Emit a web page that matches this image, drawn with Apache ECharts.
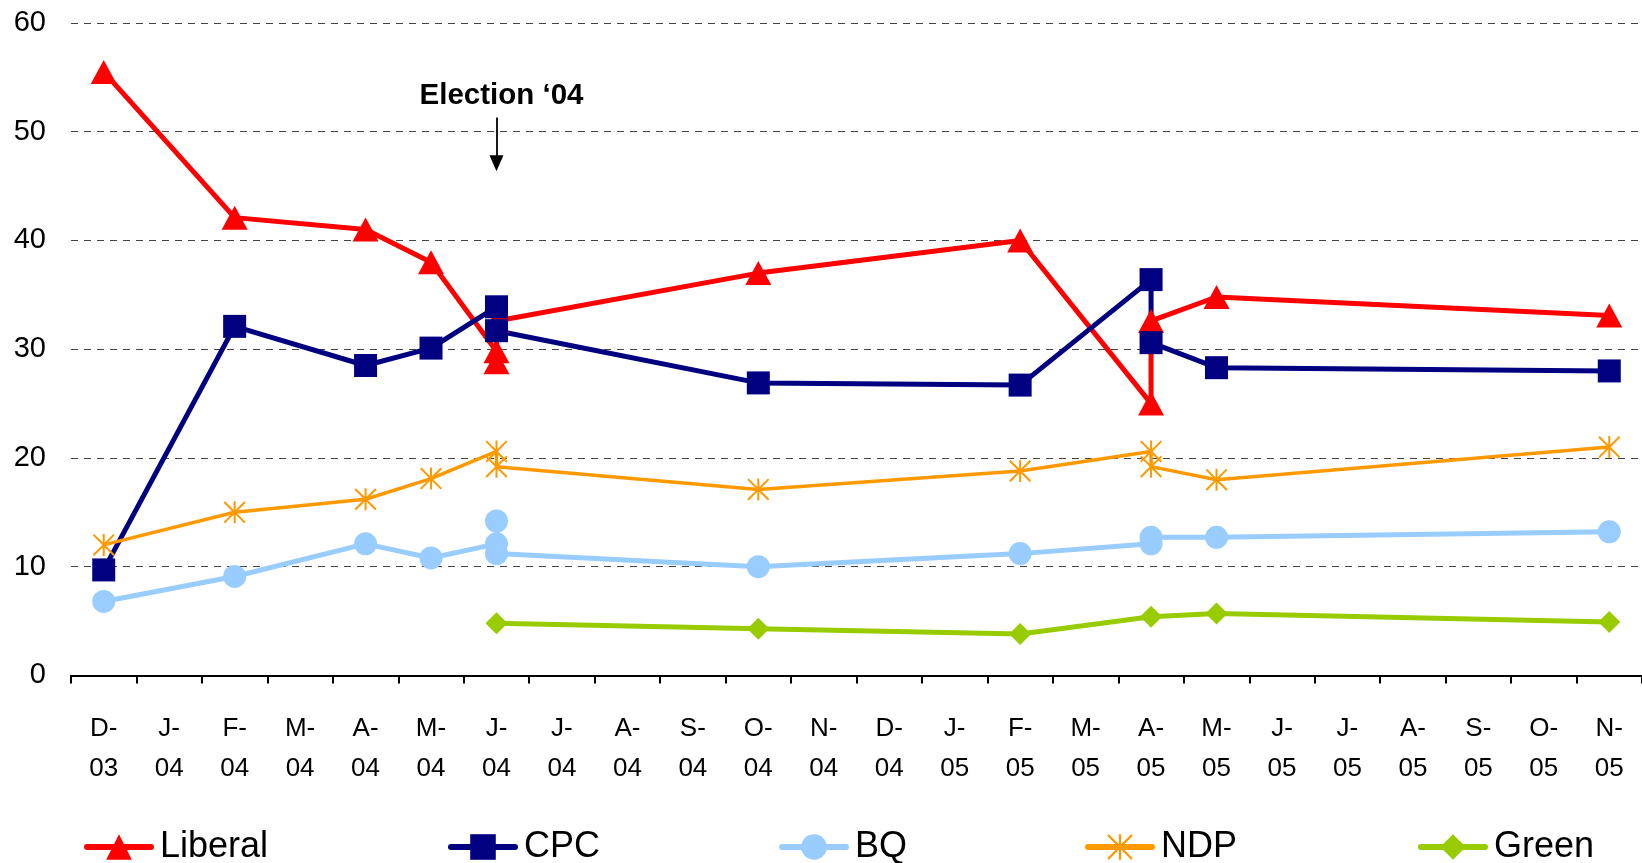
<!DOCTYPE html>
<html>
<head>
<meta charset="utf-8">
<script src="https://cdn.jsdelivr.net/npm/echarts@6/dist/echarts.min.js"></script>
<style>
html,body{margin:0;padding:0;background:#fff;}
#chart{width:1642px;height:863px;}
</style>
</head>
<body>
<div id="chart"></div>
<script>
// ---- data ----
const months = ['Dec-03','Jan-04','Feb-04','Mar-04','Apr-04','May-04','Jun-04','Jul-04','Aug-04','Sep-04','Oct-04','Nov-04',
                'Dec-04','Jan-05','Feb-05','Mar-05','Apr-05','May-05','Jun-05','Jul-05','Aug-05','Sep-05','Oct-05','Nov-05'];
const tickLabels = ['D-\n03','J-\n04','F-\n04','M-\n04','A-\n04','M-\n04','J-\n04','J-\n04','A-\n04','S-\n04','O-\n04','N-\n04',
                    'D-\n04','J-\n05','F-\n05','M-\n05','A-\n05','M-\n05','J-\n05','J-\n05','A-\n05','S-\n05','O-\n05','N-\n05'];
const yTicks = [0, 10, 20, 30, 40, 50, 60];

const liberal = [['Dec-03',55.5],['Feb-04',42.1],['Apr-04',41.0],['May-04',38.0],['Jun-04',29.8],['Jun-04',28.8],['Jun-04',32.6],
                 ['Oct-04',37.0],['Feb-05',40.0],['Apr-05',25.0],['Apr-05',32.6],['May-05',34.8],['Nov-05',33.1]];
const cpc = [['Dec-03',9.7],['Feb-04',32.1],['Apr-04',28.5],['May-04',30.1],['Jun-04',33.9],['Jun-04',31.7],
             ['Oct-04',26.9],['Feb-05',26.7],['Apr-05',36.4],['Apr-05',30.6],['May-05',28.3],['Nov-05',28.0]];
const bq = [['Dec-03',6.8],['Feb-04',9.1],['Apr-04',12.1],['May-04',10.8],['Jun-04',12.1],['Jun-04',14.2],['Jun-04',11.2],
            ['Oct-04',10.0],['Feb-05',11.2],['Apr-05',12.1],['Apr-05',12.7],['May-05',12.7],['Nov-05',13.2]];
const ndp = [['Dec-03',12.0],['Feb-04',15.0],['Apr-04',16.2],['May-04',18.1],['Jun-04',20.6],['Jun-04',19.2],
             ['Oct-04',17.1],['Feb-05',18.8],['Apr-05',20.6],['Apr-05',19.2],['May-05',18.0],['Nov-05',21.0]];
const green = [['Jun-04',4.8],['Oct-04',4.3],['Feb-05',3.8],['Apr-05',5.4],['May-05',5.7],['Nov-05',4.9]];

const electionText = 'Election \u201804';
const electionMonth = 'Jun-04';
const electionArrow = [51.3, 47.1];

// ---- chart ----
const FONT = '"Liberation Sans", Arial, Helvetica, sans-serif';
const asterisk = 'path://M10,0H12V22H10Z M1.4,0L22,20.6L20.6,22L0,1.4Z M20.6,0L22,1.4L1.4,22L0,20.6Z';

function mkSeries(name, data, color, symbol, size, width) {
  return {
    name: name, type: 'line', data: data,
    symbol: symbol, symbolSize: size,
    showAllSymbol: true,
    lineStyle: { color: color, width: width },
    itemStyle: { color: color },
    emphasis: { disabled: true },
    animation: false
  };
}

const series = [
  mkSeries('Liberal', liberal, '#FF0000', 'triangle', [26, 24], 5),
  mkSeries('CPC', cpc, '#000080', 'rect', 23, 5),
  mkSeries('BQ', bq, '#99CCFF', 'circle', 23, 5),
  mkSeries('NDP', ndp, '#FF9900', asterisk, 22, 3.5),
  mkSeries('Green', green, '#99CC00', 'diamond', 22, 5)
];

series[0].markLine = {
  silent: true,
  animation: false,
  symbol: ['none', 'triangle'],
  symbolSize: [14, 16],
  lineStyle: { color: '#000', width: 1.8, type: 'solid' },
  label: {
    show: true, position: 'start', formatter: electionText,
    color: '#000', fontFamily: FONT, fontWeight: 'bold', fontSize: 29.5, distance: 7,
    padding: [0, 0, 0, 10]
  },
  data: [[{ coord: [electionMonth, electionArrow[0]] }, { coord: [electionMonth, electionArrow[1]] }]]
};

const legendLefts = [84, 448, 779, 1085, 1418];
const legends = ['Liberal','CPC','BQ','NDP','Green'].map((n, i) => ({
  data: [n], left: legendLefts[i], top: 829, padding: 0,
  itemWidth: 64, itemHeight: 32, selectedMode: false,
  lineStyle: { width: 6, cap: 'round' },
  textStyle: { fontSize: 36, color: '#000', fontFamily: FONT, padding: [0, 0, 0, 4] }
}));

const chart = echarts.init(document.getElementById('chart'), null, { renderer: 'canvas' });
chart.setOption({
  animation: false,
  backgroundColor: '#fff',
  grid: { left: 71, right: -4, top: 23, bottom: 187.6, containLabel: false },
  legend: legends,
  xAxis: {
    type: 'category', data: months, boundaryGap: true,
    axisLine: { show: true, lineStyle: { color: '#000', width: 2 } },
    axisTick: { show: true, interval: 0, length: 8, lineStyle: { color: '#000', width: 2 } },
    axisLabel: {
      interval: 0, margin: 33, fontSize: 26, lineHeight: 40, color: '#000', fontFamily: FONT,
      formatter: (v, i) => tickLabels[i]
    },
    splitLine: { show: false }
  },
  yAxis: {
    type: 'value', min: yTicks[0], max: yTicks[yTicks.length - 1], interval: 10,
    axisLine: { show: false }, axisTick: { show: false },
    axisLabel: { fontSize: 29, color: '#000', fontFamily: FONT, margin: 25 },
    splitLine: { show: true, lineStyle: { color: '#444', width: 1, type: [7, 6] } }
  },
  series: series
});
</script>
</body>
</html>
